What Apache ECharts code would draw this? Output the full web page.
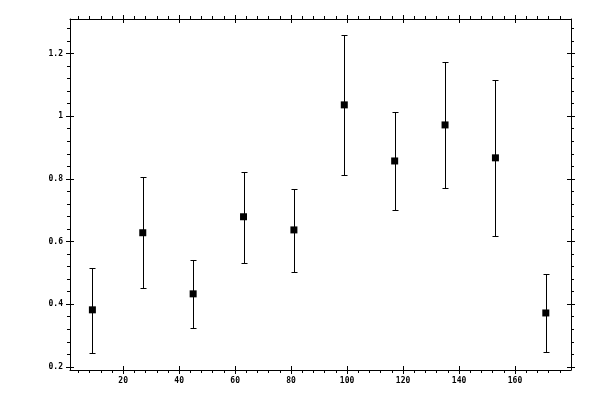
<!DOCTYPE html>
<html>
<head>
<meta charset="utf-8">
<script src="https://cdn.jsdelivr.net/npm/echarts@6/dist/echarts.min.js"></script>
<style>html,body{margin:0;padding:0;background:#fff}#c{width:600px;height:400px}</style>
</head>
<body>
<div id="c"></div>
<script>
var xValues = [9, 27, 45, 63, 81, 99, 117, 135, 153, 171];
var yValues = [0.382, 0.628, 0.433, 0.679, 0.637, 1.036, 0.857, 0.972, 0.867, 0.372];
var yLow    = [0.245, 0.452, 0.324, 0.531, 0.503, 0.813, 0.701, 0.771, 0.618, 0.248];
var yHigh   = [0.516, 0.806, 0.541, 0.822, 0.768, 1.258, 1.014, 1.172, 1.116, 0.497];
var xMajorTicks = [20, 40, 60, 80, 100, 120, 140, 160];
var yMajorTicks = [0.2, 0.4, 0.6, 0.8, 1, 1.2];

var X_MIN = 1, X_MAX = 180, Y_MIN = 0.19, Y_MAX = 1.31;
var xMinorTicks = [];
for (var i = 1; i < 45; i++) { var v = i * 4; if (v % 20 !== 0) xMinorTicks.push(v); }
var yMinorTicks = [];
for (var j = 0; j <= 27; j++) { var w = Math.round((0.2 + j * 0.04) * 1000) / 1000; if (Math.round(w * 100) % 20 !== 0 && w < Y_MAX) yMinorTicks.push(w); }

var FONT = { fontFamily: 'DejaVu Sans Mono', fontSize: 8, fontWeight: 'bold', color: '#000' };
var lineStyle = { color: '#000', width: 1 };

function mkAxis(pos, min, max, ticks, opts) {
  return {
    type: 'value', position: pos, min: min, max: max,
    axisLine: { show: !!opts.line, onZero: false, lineStyle: lineStyle },
    splitLine: { show: false },
    axisTick: { show: true, inside: !!opts.inside, length: opts.len, customValues: ticks, lineStyle: lineStyle },
    axisLabel: opts.label ? Object.assign({ show: true, margin: opts.margin, customValues: ticks }, FONT) : { show: false },
    axisPointer: { show: false }
  };
}

var xAxes = [
  mkAxis('bottom', X_MIN, X_MAX, xMajorTicks, { line: true, len: 4, label: true, margin: 7 }),
  mkAxis('bottom', X_MIN, X_MAX, xMajorTicks, { inside: true, len: 4 }),
  mkAxis('bottom', X_MIN, X_MAX, xMinorTicks, { len: 3 }),
  mkAxis('top', X_MIN, X_MAX, xMajorTicks, { line: true, len: 4 }),
  mkAxis('top', X_MIN, X_MAX, xMajorTicks, { inside: true, len: 4 }),
  mkAxis('top', X_MIN, X_MAX, xMinorTicks, { len: 3 })
];
var yAxes = [
  mkAxis('left', Y_MIN, Y_MAX, yMajorTicks, { line: true, len: 4, label: true, margin: 7 }),
  mkAxis('left', Y_MIN, Y_MAX, yMajorTicks, { inside: true, len: 4 }),
  mkAxis('left', Y_MIN, Y_MAX, yMinorTicks, { len: 3 }),
  mkAxis('right', Y_MIN, Y_MAX, yMajorTicks, { line: true, len: 4 }),
  mkAxis('right', Y_MIN, Y_MAX, yMajorTicks, { inside: true, len: 4 }),
  mkAxis('right', Y_MIN, Y_MAX, yMinorTicks, { len: 3 })
];

var errData = xValues.map(function (x, k) { return [x, yLow[k], yHigh[k]]; });
var ptData = xValues.map(function (x, k) { return [x, yValues[k]]; });

var chart = echarts.init(document.getElementById('c'), null, { renderer: 'canvas' });
chart.setOption({
  animation: false,
  backgroundColor: '#fff',
  grid: { left: 70, right: 29, top: 19, bottom: 30, containLabel: false },
  xAxis: xAxes,
  yAxis: yAxes,
  series: [
    {
      type: 'custom', xAxisIndex: 0, yAxisIndex: 0, data: errData,
      renderItem: function (params, api) {
        var lo = api.coord([api.value(0), api.value(1)]);
        var hi = api.coord([api.value(0), api.value(2)]);
        var cx = Math.round(lo[0]) + 0.5;
        var ly = Math.round(lo[1]) + 0.5;
        var hy = Math.round(hi[1]) + 0.5;
        var h = 2.5;
        var st = { stroke: '#000', lineWidth: 1 };
        return { type: 'group', children: [
          { type: 'line', shape: { x1: cx, y1: ly, x2: cx, y2: hy }, style: st },
          { type: 'line', shape: { x1: cx - h - 0.5, y1: ly, x2: cx + h + 0.5, y2: ly }, style: st },
          { type: 'line', shape: { x1: cx - h - 0.5, y1: hy, x2: cx + h + 0.5, y2: hy }, style: st }
        ]};
      },
      encode: { x: 0, y: [1, 2] }
    },
    {
      type: 'scatter', xAxisIndex: 0, yAxisIndex: 0, data: ptData,
      symbol: 'rect', symbolSize: 7, itemStyle: { color: '#000', opacity: 1 }
    }
  ]
});
</script>
</body>
</html>
